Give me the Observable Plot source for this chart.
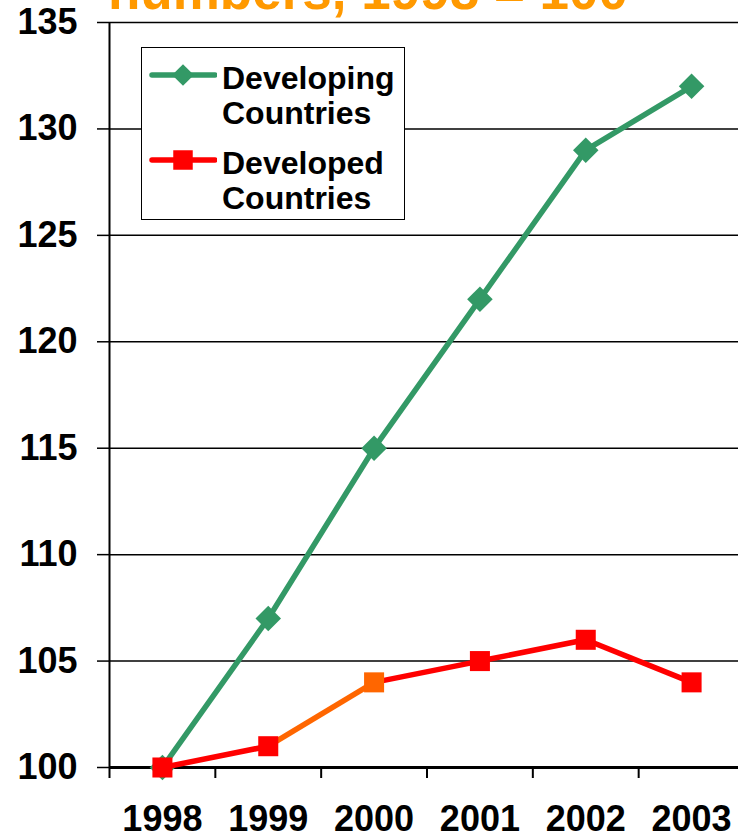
<!DOCTYPE html>
<html>
<head>
<meta charset="utf-8">
<script src="https://cdn.jsdelivr.net/npm/d3@7"></script>
<script src="https://cdn.jsdelivr.net/npm/@observablehq/plot@0.6"></script>
<style>
  html, body { margin: 0; padding: 0; background: #fff; overflow: hidden; }
  #wrap { position: relative; width: 738px; height: 840px; font-family: "Liberation Sans", Arial, sans-serif; }
  #title { position: absolute; left: 108px; top: -36px; font-size: 53px; line-height: 1; font-weight: bold; color: #FF9900; white-space: nowrap; }
  #legend { position: absolute; left: 141px; top: 47px; width: 264px; height: 173px; background: #fff; border: 1.5px solid #000; box-sizing: border-box; }
  .entry { position: absolute; left: 0; display: flex; align-items: flex-start; }
  .entry svg { display: block; }
  .entry .lbl { font-size: 32px; font-weight: bold; line-height: 35px; color: #000; margin-left: 5px; }
</style>
</head>
<body>
<div id="wrap">
  <div id="chart"></div>
  <div id="title">numbers, 1998 = 100</div>
  <div id="legend"></div>
</div>
<script>
// Index of users, 1998 = 100
const years = [1998, 1999, 2000, 2001, 2002, 2003];
const developing = [100, 107, 115, 122, 129, 132];
const developed = [100, 101, 104, 105, 106, 104];
// marker / incoming-segment colour for each developed-country point
const developedColors = ["#FF0000", "#FF0000", "#FF6600", "#FF0000", "#FF0000", "#FF0000"];
const yTicks = [100, 105, 110, 115, 120, 125, 130, 135];

const green = "#339966";
const red = "#FF0000";

const devRows = years.map((year, i) => ({year, value: developing[i]}));
const dvdRows = years.map((year, i) => ({year, value: developed[i], color: developedColors[i]}));
const dvdSegments = dvdRows.slice(1).map((d, i) => ({
  x1: dvdRows[i].year, y1: dvdRows[i].value, x2: d.year, y2: d.value, color: d.color
}));
// category boundaries for the x-axis tick marks
const boundaries = years.map(y => y - 0.5).concat([years[years.length - 1] + 0.5]);

const chart = Plot.plot({
  width: 738,
  height: 840,
  marginLeft: 109,
  marginRight: 0,
  marginTop: 22,
  marginBottom: 73,
  style: {fontFamily: "'Liberation Sans', Arial, sans-serif", fontWeight: "bold", color: "#000", background: "transparent"},
  x: {domain: [years[0] - 0.5, years[years.length - 1] + 0.5], range: [109, 744]},
  y: {domain: [100, 135]},
  color: {type: "identity"},
  marks: [
    Plot.ruleY(yTicks.slice(1), {stroke: "#000", strokeWidth: 1.5}),
    Plot.axisY({ticks: yTicks, tickSize: 12, tickPadding: 20, fontSize: 36, fontWeight: "bold", stroke: "#000", strokeWidth: 1.5, label: null}),
    Plot.axisX({ticks: boundaries, tickSize: 11, tickFormat: () => "", stroke: "#000", strokeWidth: 2, label: null}),
    Plot.axisX({ticks: years, tickSize: 0, tickPadding: 38, tickFormat: d => String(d), fontSize: 36, fontWeight: "bold", label: null}),
    Plot.ruleX([years[0] - 0.5], {y1: 100, y2: 135, stroke: "#000", strokeWidth: 2}),
    Plot.ruleY([100], {stroke: "#000", strokeWidth: 3}),
    Plot.line(devRows, {x: "year", y: "value", stroke: green, strokeWidth: 5.5}),
    Plot.dot(devRows, {x: "year", y: "value", symbol: "diamond2", r: 11.5, fill: green, stroke: "none"}),
    Plot.link(dvdSegments, {x1: "x1", y1: "y1", x2: "x2", y2: "y2", stroke: "color", strokeWidth: 5.5}),
    Plot.dot(dvdRows, {x: "year", y: "value", symbol: "square", r: 11.3, fill: "color", stroke: "none"})
  ]
});
document.getElementById("chart").appendChild(chart);

// Legend
const series = [
  {name: ["Developing", "Countries"], color: green, symbol: d3.symbolDiamond2, size: 300, top: 13},
  {name: ["Developed", "Countries"], color: red, symbol: d3.symbolSquare, size: 380, top: 98}
];
const legend = d3.select("#legend");
for (const s of series) {
  const e = legend.append("div").attr("class", "entry").style("top", s.top + "px");
  const svg = e.append("svg").attr("width", 75).attr("height", 28);
  svg.append("line").attr("x1", 10).attr("x2", 73).attr("y1", 14).attr("y2", 14)
    .attr("stroke", s.color).attr("stroke-width", 5.5).attr("stroke-linecap", "round");
  svg.append("path").attr("d", d3.symbol(s.symbol, s.size)()).attr("transform", "translate(41,14)").attr("fill", s.color);
  e.append("div").attr("class", "lbl").html(s.name.join("<br>"));
}
</script>
</body>
</html>
